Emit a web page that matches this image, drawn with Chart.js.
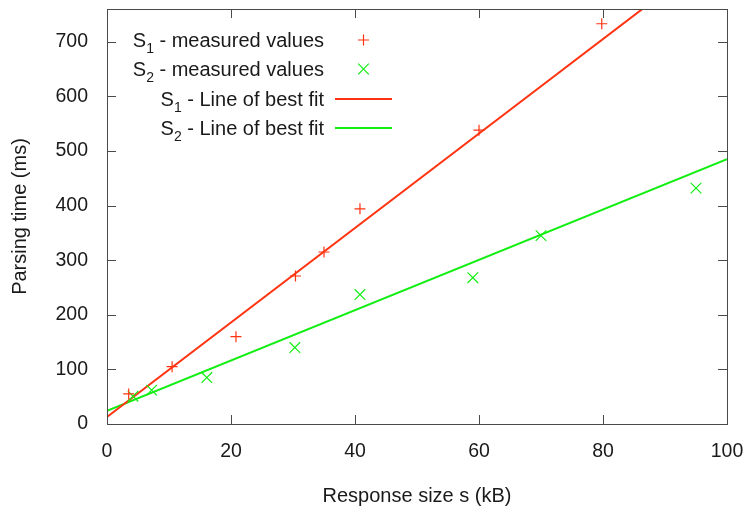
<!DOCTYPE html>
<html>
<head>
<meta charset="utf-8">
<script src="https://cdn.jsdelivr.net/npm/chart.js@4.4.1/dist/chart.umd.min.js"></script>
<style>
  body { margin: 0; background: #fff; }
  #wrap { width: 745px; height: 512px; }
</style>
</head>
<body>
<div id="wrap"><canvas id="canvas"></canvas></div>
<script>
let colorRed = "#ff3311";
let colorGreen = "#11ee11";
let colorText = "#1a1a1a";
let colorFrame = "#4a4a4a";
let fontFamily = "'Liberation Sans', Arial, sans-serif";

let s1Size = [3.5, 10.5, 20.8, 30.4, 35, 40.8, 60, 79.8];
let s1Time = [55, 105, 160, 271, 315, 394, 538, 733];
let s2Size = [4.2, 7.2, 16.1, 30.3, 40.8, 59, 70, 95];
let s2Time = [51, 62, 85, 140, 237, 268, 345, 432];

// lines of best fit, given by their ends
let fitSize = [0, 100];
let fitS1 = [13, 878];
let fitS2 = [24, 485];

let seriesNames = ["S_1 - measured values", "S_2 - measured values", "S_1 - Line of best fit", "S_2 - Line of best fit"];
let xTicks = [0, 20, 40, 60, 80, 100];
let yTicks = [0, 100, 200, 300, 400, 500, 600, 700];

let toPoints = (xs, ys) => xs.map((x, i) => ({x: x, y: ys[i]}));

// text like "S_1 - ..." with the digit set as subscript, right aligned at xRight
function drawSubText(ctx, text, xRight, yBase, size) {
    let m = text.match(/^(.*?)_(\d)(.*)$/);
    let parts = m ? [m[1], m[2], m[3]] : [text, "", ""];
    let subSize = Math.round(size * 0.68);
    ctx.font = `${size}px ${fontFamily}`;
    let w0 = ctx.measureText(parts[0]).width;
    let w2 = ctx.measureText(parts[2]).width;
    ctx.font = `${subSize}px ${fontFamily}`;
    let w1 = ctx.measureText(parts[1]).width;
    let x = xRight - (w0 + w1 + w2);
    ctx.textAlign = "left";
    ctx.textBaseline = "alphabetic";
    ctx.fillStyle = colorText;
    ctx.font = `${size}px ${fontFamily}`;
    ctx.fillText(parts[0], x, yBase);
    ctx.font = `${subSize}px ${fontFamily}`;
    ctx.fillText(parts[1], x + w0, yBase + 6);
    ctx.font = `${size}px ${fontFamily}`;
    ctx.fillText(parts[2], x + w0 + w1, yBase);
}

let noPad = (scale) => {
    scale.paddingLeft = 0;
    scale.paddingRight = 0;
    scale.paddingTop = 0;
    scale.paddingBottom = 0;
};

let frameAndKey = {
    id: "frameAndKey",
    afterDatasetsDraw(chart) {
        let ctx = chart.ctx;
        let a = chart.chartArea;
        let xs = chart.scales.x, ys = chart.scales.y;
        ctx.save();
        ctx.strokeStyle = colorFrame;
        ctx.lineWidth = 1;
        ctx.strokeRect(Math.round(a.left) + 0.5, Math.round(a.top) + 0.5, Math.round(a.right - a.left), Math.round(a.bottom - a.top));
        ctx.beginPath();
        let tl = 9;
        xTicks.forEach((v) => {
            let px = Math.round(xs.getPixelForValue(v)) + 0.5;
            ctx.moveTo(px, a.bottom); ctx.lineTo(px, a.bottom - tl);
            ctx.moveTo(px, a.top); ctx.lineTo(px, a.top + tl);
        });
        yTicks.forEach((v) => {
            let py = Math.round(ys.getPixelForValue(v)) + 0.5;
            ctx.moveTo(a.left, py); ctx.lineTo(a.left + tl, py);
            ctx.moveTo(a.right, py); ctx.lineTo(a.right - tl, py);
        });
        ctx.stroke();

        // key, gnuplot style: text right aligned, sample to the right
        let textRight = 324, sampleL = 335, sampleR = 392;
        let rowY = [40, 69, 99, 128];
        chart.data.datasets.forEach((ds, i) => {
            drawSubText(ctx, seriesNames[i], textRight, rowY[i] + 7, 20);
            if (ds.showLine) {
                ctx.strokeStyle = ds.borderColor;
                ctx.lineWidth = ds.borderWidth;
                ctx.beginPath();
                ctx.moveTo(sampleL, rowY[i]);
                ctx.lineTo(sampleR, rowY[i]);
                ctx.stroke();
            } else {
                ctx.strokeStyle = ds.borderColor;
                ctx.fillStyle = ds.borderColor;
                ctx.lineWidth = ds.borderWidth;
                Chart.helpers.drawPoint(ctx, {pointStyle: ds.pointStyle, radius: ds.pointRadius, rotation: 0, borderWidth: ds.borderWidth}, (sampleL + sampleR) / 2, rowY[i]);
            }
        });
        ctx.restore();
    }
};

new Chart(document.getElementById("canvas").getContext("2d"), {
    type: "scatter",
    data: {
        datasets: [{
            label: seriesNames[0],
            data: toPoints(s1Size, s1Time),
            pointStyle: "cross",
            pointRadius: 5.5,
            borderColor: colorRed,
            backgroundColor: colorRed,
            borderWidth: 1.2,
            showLine: false
        }, {
            label: seriesNames[1],
            data: toPoints(s2Size, s2Time),
            pointStyle: "crossRot",
            pointRadius: 7.5,
            borderColor: colorGreen,
            backgroundColor: colorGreen,
            borderWidth: 1.2,
            showLine: false
        }, {
            label: seriesNames[2],
            data: toPoints(fitSize, fitS1),
            showLine: true,
            pointRadius: 0,
            borderColor: colorRed,
            borderWidth: 2,
            clip: 0
        }, {
            label: seriesNames[3],
            data: toPoints(fitSize, fitS2),
            showLine: true,
            pointRadius: 0,
            borderColor: colorGreen,
            borderWidth: 2,
            clip: 0
        }]
    },
    options: {
        responsive: true,
        maintainAspectRatio: false,
        animation: false,
        events: [],
        layout: {
            padding: {top: 9, right: 18, left: 0, bottom: 0}
        },
        plugins: {
            legend: {display: false},
            tooltip: {enabled: false}
        },
        scales: {
            x: {
                type: "linear",
                min: 0,
                max: 100,
                grid: {display: false},
                border: {display: false},
                afterBuildTicks: (scale) => { scale.ticks = xTicks.map((v) => ({value: v})); },
                afterFit: (scale) => { scale.height = 88; noPad(scale); },
                ticks: {
                    padding: 8,
                    color: colorText,
                    font: {family: fontFamily, size: 19.5}
                },
                title: {
                    display: true,
                    text: "Response size s (kB)",
                    color: colorText,
                    padding: {top: 0, bottom: 4},
                    font: {family: fontFamily, size: 20}
                }
            },
            y: {
                type: "linear",
                min: 0,
                max: 760,
                grid: {display: false},
                border: {display: false},
                afterBuildTicks: (scale) => { scale.ticks = yTicks.map((v) => ({value: v})); },
                afterFit: (scale) => { scale.width = 107; noPad(scale); },
                ticks: {
                    padding: 11,
                    color: colorText,
                    font: {family: fontFamily, size: 19.5}
                },
                title: {
                    display: true,
                    text: "Parsing time (ms)",
                    color: colorText,
                    padding: {top: 8, bottom: 0},
                    font: {family: fontFamily, size: 20}
                }
            }
        }
    },
    plugins: [frameAndKey]
});
</script>
</body>
</html>
